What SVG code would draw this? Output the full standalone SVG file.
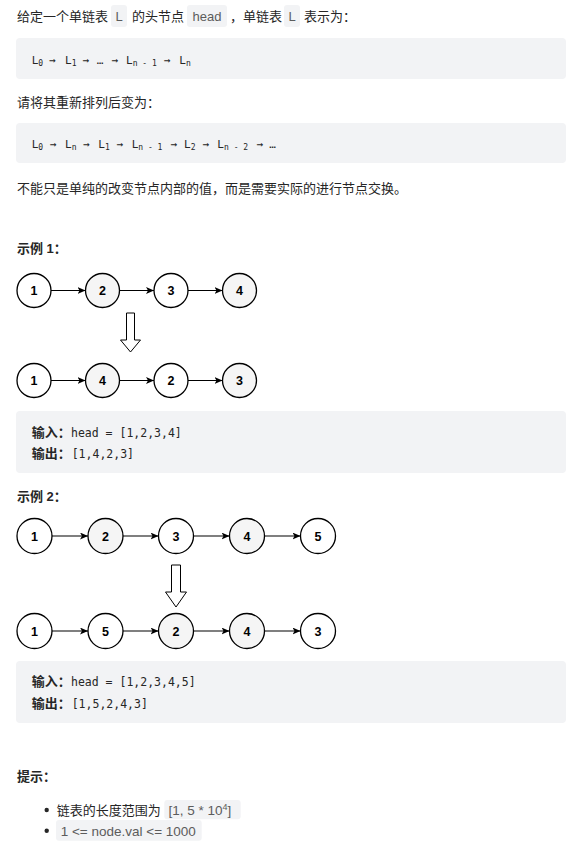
<svg xmlns="http://www.w3.org/2000/svg" width="579" height="847" viewBox="0 0 579 847">
<style>
.t{font-family:"Liberation Sans","Noto Sans CJK SC",sans-serif;font-size:13px;fill:#262626}
.b{font-weight:bold}
.ic{font-family:"Liberation Sans","Noto Sans CJK SC",sans-serif;font-size:13px;fill:#5c5c5c}
.blk{fill:#f2f3f5}
.m{font-family:"DejaVu Sans Mono","Liberation Mono",monospace;font-size:11px;fill:#262626}
.s{font-size:8px}
.mx{font-family:"DejaVu Sans Mono","Liberation Mono",monospace;font-size:11.5px;fill:#262626}
.nd circle{stroke:#000;stroke-width:1.3}
.w{fill:#fff}
.g{fill:#f5f5f5}
.nd text{font-family:"Liberation Sans",Arial,sans-serif;font-size:12.5px;font-weight:bold;fill:#000;text-anchor:middle}
.ln{stroke:#000;stroke-width:1.2;fill:none}
.da{fill:#fff;stroke:#000;stroke-width:1}
</style>
<defs>
<marker id="ah" markerUnits="userSpaceOnUse" markerWidth="9" markerHeight="8" refX="8" refY="3.5" orient="auto">
<path d="M0,0 L8,3.5 L0,7 L2,3.5 z" fill="#000"/>
</marker>
</defs>
<rect width="579" height="847" fill="#fff"/>

<!-- line 1 -->
<g id="intro">
<text class="t" x="17" y="21">给定一个单链表</text>
<rect class="blk" x="111" y="5" width="16" height="22" rx="3"/>
<text class="ic" x="119" y="21" text-anchor="middle">L</text>
<text class="t" x="132" y="21">的头节点</text>
<rect class="blk" x="187" y="5" width="40" height="22" rx="3"/>
<text class="ic" x="207" y="21" text-anchor="middle">head</text>
<text class="t" x="230" y="21">，单链表</text>
<rect class="blk" x="284" y="5" width="16" height="22" rx="3"/>
<text class="ic" x="292" y="21" text-anchor="middle">L</text>
<text class="t" x="304" y="21">表示为：</text>
</g>

<g id="code1">
<rect class="blk" x="16" y="38" width="550" height="41" rx="4"/>
<text class="m" y="63.5"><tspan x="31.7">L</tspan><tspan class="s" x="38.3" y="66">0</tspan><tspan x="49.3" y="63.5">→</tspan><tspan x="65">L</tspan><tspan class="s" x="71.7" y="66">1</tspan><tspan x="82.7" y="63.5">→</tspan><tspan x="96.7">…</tspan><tspan x="111.7">→</tspan><tspan x="126">L</tspan><tspan class="s" x="132.7" y="66" xml:space="preserve">n - 1</tspan><tspan x="164" y="63.5">→</tspan><tspan x="179.3">L</tspan><tspan class="s" x="186" y="66">n</tspan></text>
</g>

<text class="t" x="17" y="107">请将其重新排列后变为：</text>

<g id="code2">
<rect class="blk" x="16" y="123" width="550" height="40" rx="4"/>
<text class="m" y="147.5"><tspan x="31.7">L</tspan><tspan class="s" x="38.3" y="150">0</tspan><tspan x="50" y="147.5">→</tspan><tspan x="65">L</tspan><tspan class="s" x="71.7" y="150">n</tspan><tspan x="83.3" y="147.5">→</tspan><tspan x="98.3">L</tspan><tspan class="s" x="105" y="150">1</tspan><tspan x="116.7" y="147.5">→</tspan><tspan x="131.7">L</tspan><tspan class="s" x="138.3" y="150" xml:space="preserve">n - 1</tspan><tspan x="170.7" y="147.5">→</tspan><tspan x="184">L</tspan><tspan class="s" x="190.7" y="150">2</tspan><tspan x="202.7" y="147.5">→</tspan><tspan x="217.3">L</tspan><tspan class="s" x="224" y="150" xml:space="preserve">n - 2</tspan><tspan x="256.7" y="147.5">→</tspan><tspan x="269.3">…</tspan></text>
</g>

<text class="t" x="17" y="193">不能只是单纯的改变节点内部的值，而是需要实际的进行节点交换。</text>

<text class="t b" x="17" y="253">示例 1：</text>

<!-- Example 1 nodes -->
<g id="e1a1" class="nd"><circle class="w" cx="34" cy="290.5" r="17"/><text x="34" y="295">1</text></g>
<g id="e1a2" class="nd"><circle class="g" cx="102.5" cy="290.5" r="17"/><text x="102.5" y="295">2</text></g>
<g id="e1a3" class="nd"><circle class="w" cx="171" cy="290.5" r="17"/><text x="171" y="295">3</text></g>
<g id="e1a4" class="nd"><circle class="g" cx="239.5" cy="290.5" r="17"/><text x="239.5" y="295">4</text></g>
<g id="e1b1" class="nd"><circle class="w" cx="34" cy="380.5" r="17"/><text x="34" y="385">1</text></g>
<g id="e1b2" class="nd"><circle class="g" cx="102.5" cy="380.5" r="17"/><text x="102.5" y="385">4</text></g>
<g id="e1b3" class="nd"><circle class="w" cx="171" cy="380.5" r="17"/><text x="171" y="385">2</text></g>
<g id="e1b4" class="nd"><circle class="g" cx="239.5" cy="380.5" r="17"/><text x="239.5" y="385">3</text></g>

<g id="e1box">
<rect class="blk" x="16" y="411" width="550" height="62" rx="4"/>
<text class="t b" x="31.7" y="437">输入：</text>
<text class="mx" x="71" y="437">head = [1,2,3,4]</text>
<text class="t b" x="31.7" y="458">输出：</text>
<text class="mx" x="71.7" y="458">[1,4,2,3]</text>
</g>

<text class="t b" x="17" y="501">示例 2：</text>

<!-- Example 2 nodes -->
<g id="e2a1" class="nd"><circle class="w" cx="34.5" cy="536" r="17.5"/><text x="34.5" y="540.5">1</text></g>
<g id="e2a2" class="nd"><circle class="g" cx="105.5" cy="536" r="17.5"/><text x="105.5" y="540.5">2</text></g>
<g id="e2a3" class="nd"><circle class="w" cx="176" cy="536" r="17.5"/><text x="176" y="540.5">3</text></g>
<g id="e2a4" class="nd"><circle class="g" cx="247" cy="536" r="17.5"/><text x="247" y="540.5">4</text></g>
<g id="e2a5" class="nd"><circle class="w" cx="318" cy="536" r="17.5"/><text x="318" y="540.5">5</text></g>
<g id="e2b1" class="nd"><circle class="w" cx="34.5" cy="631" r="17.5"/><text x="34.5" y="635.5">1</text></g>
<g id="e2b2" class="nd"><circle class="w" cx="105.5" cy="631" r="17.5"/><text x="105.5" y="635.5">5</text></g>
<g id="e2b3" class="nd"><circle class="g" cx="176" cy="631" r="17.5"/><text x="176" y="635.5">2</text></g>
<g id="e2b4" class="nd"><circle class="g" cx="247" cy="631" r="17.5"/><text x="247" y="635.5">4</text></g>
<g id="e2b5" class="nd"><circle class="w" cx="318" cy="631" r="17.5"/><text x="318" y="635.5">3</text></g>

<g id="connectors">
<line class="ln" x1="51" y1="290.5" x2="85.5" y2="290.5" marker-end="url(#ah)"/>
<line class="ln" x1="119.5" y1="290.5" x2="154" y2="290.5" marker-end="url(#ah)"/>
<line class="ln" x1="188" y1="290.5" x2="222.5" y2="290.5" marker-end="url(#ah)"/>
<line class="ln" x1="51" y1="380.5" x2="85.5" y2="380.5" marker-end="url(#ah)"/>
<line class="ln" x1="119.5" y1="380.5" x2="154" y2="380.5" marker-end="url(#ah)"/>
<line class="ln" x1="188" y1="380.5" x2="222.5" y2="380.5" marker-end="url(#ah)"/>
<polygon class="da" points="126.5,313 134.5,313 134.5,340 140.5,340 130.5,352 120.5,340 126.5,340"/>
<line class="ln" x1="52" y1="536" x2="88" y2="536" marker-end="url(#ah)"/>
<line class="ln" x1="123" y1="536" x2="158.5" y2="536" marker-end="url(#ah)"/>
<line class="ln" x1="193.5" y1="536" x2="229.5" y2="536" marker-end="url(#ah)"/>
<line class="ln" x1="264.5" y1="536" x2="300.5" y2="536" marker-end="url(#ah)"/>
<line class="ln" x1="52" y1="631" x2="88" y2="631" marker-end="url(#ah)"/>
<line class="ln" x1="123" y1="631" x2="158.5" y2="631" marker-end="url(#ah)"/>
<line class="ln" x1="193.5" y1="631" x2="229.5" y2="631" marker-end="url(#ah)"/>
<line class="ln" x1="264.5" y1="631" x2="300.5" y2="631" marker-end="url(#ah)"/>
<polygon class="da" points="171.5,565 180.5,565 180.5,592 186.5,592 176,607 165.5,592 171.5,592"/>
</g>

<g id="e2box">
<rect class="blk" x="16" y="661" width="550" height="62" rx="4"/>
<text class="t b" x="31.7" y="686">输入：</text>
<text class="mx" x="71" y="686">head = [1,2,3,4,5]</text>
<text class="t b" x="31.7" y="708">输出：</text>
<text class="mx" x="71.7" y="708">[1,5,2,4,3]</text>
</g>

<g id="hints">
<text class="t b" x="17" y="781">提示：</text>
<circle cx="46.7" cy="810" r="2.2" fill="#262626"/>
<text class="t" x="56.7" y="815">链表的长度范围为</text>
<rect class="blk" x="164.3" y="800" width="76.4" height="19.3" rx="3"/>
<text class="ic" x="168.5" y="815" style="font-size:13.5px">[1, 5 * 10<tspan dy="-5" style="font-size:9px">4</tspan><tspan dy="5">]</tspan></text>
<circle cx="46.7" cy="830.7" r="2.2" fill="#262626"/>
<rect class="blk" x="56" y="820" width="145.7" height="20.7" rx="3"/>
<text class="ic" x="60.7" y="835.5" style="font-size:13.5px">1 &lt;= node.val &lt;= 1000</text>
</g>
</svg>
